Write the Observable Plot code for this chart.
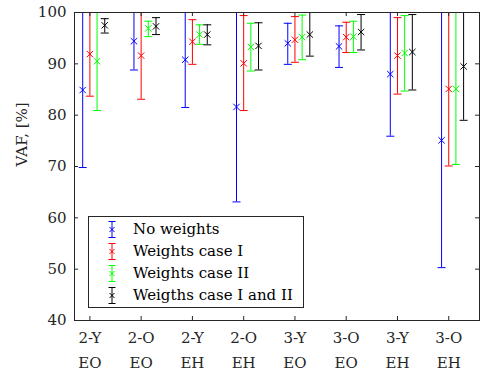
<!DOCTYPE html>
<html><head><meta charset="utf-8">
<script src="https://cdn.jsdelivr.net/npm/d3@7"></script>
<script src="https://cdn.jsdelivr.net/npm/@observablehq/plot@0.6"></script>
<style>
body{margin:0;background:#fff;}
#wrap{position:relative;width:482px;height:378px;font-family:"DejaVu Serif",serif;}
#legend{position:absolute;left:88px;top:216px;width:216px;height:92px;border:1px solid #262626;background:#fff;box-sizing:border-box;}
.row{position:absolute;left:0;height:22px;width:100%;font-size:15px;color:#000;font-family:"DejaVu Serif",serif;}
.row svg{position:absolute;left:17px;top:3px;}
.row span{position:absolute;left:44px;top:2px;white-space:nowrap;}
</style></head><body><div id="wrap"></div>
<script>
const categories = ["2-Y\nEO","2-O\nEO","2-Y\nEH","2-O\nEH","3-Y\nEO","3-O\nEO","3-Y\nEH","3-O\nEH"];
const seriesNames = ["No weights","Weights case I","Weights case II","Weigths case I and II"];
const seriesColors = ["#0000ff","#ff0000","#00ff00","#000000"];
const yTicks = [40,50,60,70,80,90,100];

const noW_mean = [84.9, 94.4, 90.8, 81.6, 94.0, 93.4, 88.0, 75.1];
const noW_low  = [69.8, 88.8, 81.5, 63.1, 89.9, 89.3, 75.9, 50.3];
const noW_high = [100, 100, 100, 100, 97.9, 97.4, 100, 100];

const w1_mean = [91.9, 91.6, 94.3, 90.1, 94.7, 95.2, 91.6, 85.1];
const w1_low  = [83.7, 83.1, 89.9, 80.9, 90.3, 92.2, 84.1, 70.1];
const w1_high = [100, 100, 98.6, 99.4, 99.2, 98.1, 99.0, 100];

const w2_mean = [90.5, 96.9, 95.7, 93.3, 95.2, 95.3, 92.1, 85.1];
const w2_low  = [80.9, 95.3, 93.8, 88.6, 90.8, 92.2, 84.7, 70.4];
const w2_high = [100, 98.3, 97.6, 97.9, 99.5, 98.3, 99.4, 100];

const w12_mean = [97.5, 97.3, 95.7, 93.5, 95.7, 96.2, 92.3, 89.5];
const w12_low  = [96.0, 95.7, 93.7, 88.8, 91.5, 92.7, 84.9, 79.0];
const w12_high = [98.8, 99.0, 97.6, 98.0, 100, 99.6, 99.6, 100];

const offsets = [-0.14, 0, 0.14, 0.29];
const series = [
  {mean: noW_mean, low: noW_low, high: noW_high},
  {mean: w1_mean, low: w1_low, high: w1_high},
  {mean: w2_mean, low: w2_low, high: w2_high},
  {mean: w12_mean, low: w12_low, high: w12_high}
];
const rows = [];
series.forEach((s, si) => categories.forEach((c, ci) => rows.push({
  x: ci + 1 + offsets[si], mean: s.mean[ci], low: s.low[ci], high: s.high[ci], color: seriesColors[si]
})));
const xTicks = categories.map((c, i) => i + 1);

const capSymbol = {draw(ctx, size){ const r = Math.sqrt(size/Math.PI); ctx.moveTo(-r,0); ctx.lineTo(r,0); }};
const axisColor = "#262626";
const fw = 482 - 74 - 3, fh = 378 - 12 - 58;

const chart = Plot.plot({
  width: 482, height: 378, marginLeft: 74, marginRight: 3, marginTop: 12, marginBottom: 58,
  style: {fontFamily: '"DejaVu Serif", serif', fontSize: "15px", color: axisColor, background: "#fff"},
  x: {domain: [0.7, 8.6], axis: null},
  y: {domain: [40, 100], axis: null},
  color: {type: "identity"},
  marks: [
    Plot.ruleX(rows, {x: "x", y1: "low", y2: "high", stroke: "color", strokeWidth: 1}),
    Plot.dot(rows, {x: "x", y: "low", symbol: capSymbol, r: 4, stroke: "color", strokeWidth: 1}),
    Plot.dot(rows, {x: "x", y: "high", symbol: capSymbol, r: 4, stroke: "color", strokeWidth: 1}),
    Plot.dot(rows, {x: "x", y: "mean", symbol: "times", r: 3, stroke: "color", strokeWidth: 1}),
    Plot.frame({stroke: axisColor}),
    Plot.tickY(yTicks, {y: d => d, insetRight: fw - 4, stroke: axisColor}),
    Plot.tickY(yTicks, {y: d => d, insetLeft: fw - 4, stroke: axisColor}),
    Plot.tickX(xTicks, {x: d => d, insetTop: fh - 4, stroke: axisColor}),
    Plot.tickX(xTicks, {x: d => d, insetBottom: fh - 4, stroke: axisColor}),
    Plot.axisY({ticks: yTicks, tickSize: 0, tickPadding: 8, label: null, fill: axisColor}),
    Plot.text(categories, {x: (d, i) => i + 1, frameAnchor: "bottom", lineAnchor: "top", dy: 4, lineHeight: 1.7, fill: axisColor}),
    Plot.text(["VAF, [%]"], {frameAnchor: "left", rotate: -90, dx: -52, fill: axisColor})
  ]
});
const wrap = document.getElementById("wrap");
wrap.appendChild(chart);

const legend = document.createElement("div");
legend.id = "legend";
seriesNames.forEach((name, i) => {
  const row = document.createElement("div");
  row.className = "row";
  row.style.top = (1 + 22 * i) + "px";
  const c = seriesColors[i];
  row.innerHTML = `<svg width="12" height="17" viewBox="0 0 12 17"><g stroke="${c}" stroke-width="1" fill="none">
    <line x1="6" y1="0.5" x2="6" y2="16.5"/><line x1="2.5" y1="0.5" x2="9.5" y2="0.5"/><line x1="2.5" y1="16.5" x2="9.5" y2="16.5"/>
    <line x1="3.5" y1="6" x2="8.5" y2="11"/><line x1="8.5" y1="6" x2="3.5" y2="11"/></g></svg><span>${name}</span>`;
  legend.appendChild(row);
});
wrap.appendChild(legend);
</script>
</body></html>
